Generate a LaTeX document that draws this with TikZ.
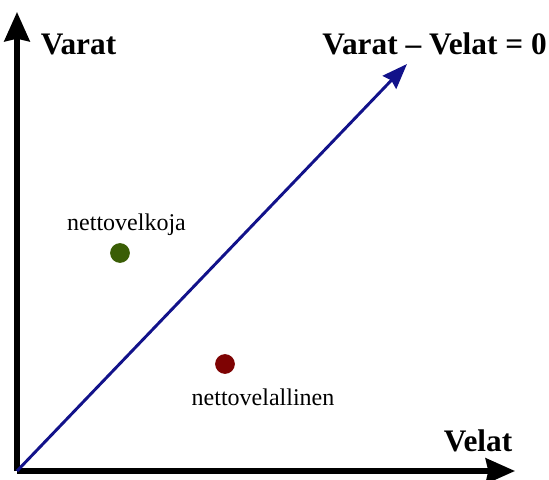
\documentclass[tikz,border=0pt]{standalone}
\usepackage{fontspec}
\setmainfont{Liberation Serif}
\usepackage{xcolor}
\usetikzlibrary{arrows.meta}

\definecolor{viiva}{HTML}{12128A}
\definecolor{vihrea}{HTML}{3A5E06}
\definecolor{punainen}{HTML}{7E0303}

\begin{document}
\begin{tikzpicture}[x=0.75pt,y=0.75pt,
  akseli/.style={line width=3.8pt,-{Stealth[length=22pt,width=19pt,inset=2pt]}},
  suora/.style={line width=2.2pt,viiva,-{Stealth[length=19pt,width=14pt,inset=2pt]}},
  otsikko/.style={font=\fontsize{23.5}{26}\selectfont\bfseries,anchor=base},
  lab/.style={font=\fontsize{18}{20}\selectfont,anchor=base},
  piste/.style={circle,inner sep=0pt,minimum size=14.8pt}]
  \useasboundingbox (0,0) rectangle (549,479);
  % ---------------- axes ----------------
  \coordinate (O) at (17,8);
  \coordinate (ytip) at (17,467);
  \coordinate (xtip) at (515,8);
  \coordinate (dtip) at (407,415);
  \draw[akseli] (O) -- (ytip);
  \draw[akseli] (O) -- (xtip);
  % Varat = Velat
  \draw[suora] (O) -- (dtip);
  % labels
  \node[otsikko] (varat) at (78.5,424) {Varat};
  \node[otsikko] (nolla) at (434.5,424) {Varat – Velat = 0};
  \node[otsikko] (velat) at (478,28) {Velat};
  % points
  \node[piste,fill=vihrea] (velkoja) at (120,226) {};
  \node[lab] (velkojalab) at (126.5,249) {nettovelkoja};
  \node[piste,fill=punainen] (velallinen) at (225,115) {};
  \node[lab] (velallinenlab) at (263,74) {nettovelallinen};
\end{tikzpicture}
\end{document}
